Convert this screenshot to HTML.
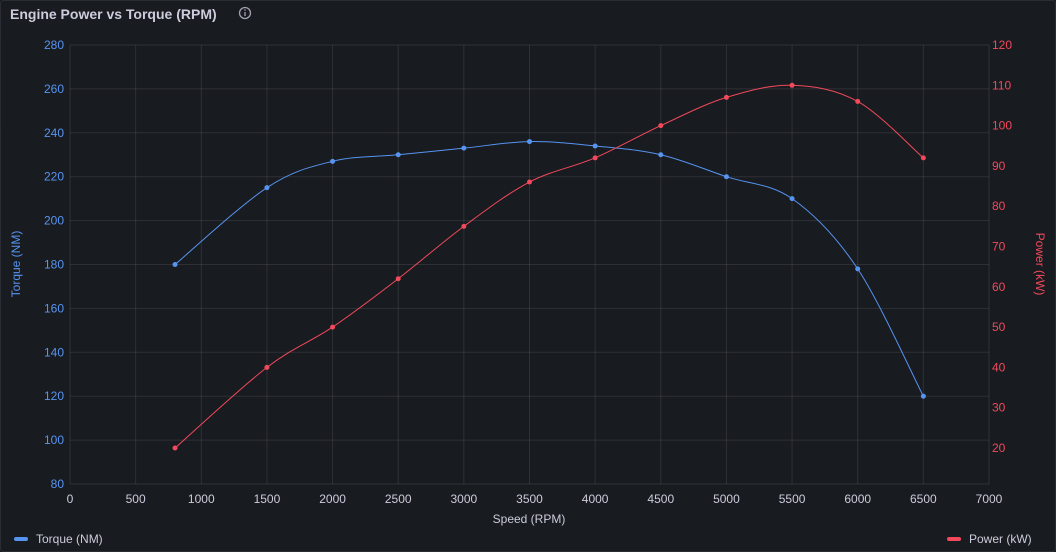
<!DOCTYPE html>
<html><head><meta charset="utf-8"><style>
html,body{margin:0;padding:0;background:#181b1f;width:1056px;height:552px;overflow:hidden;font-family:"Liberation Sans",sans-serif;}
</style></head><body>
<svg id="s" width="1056" height="552" xmlns="http://www.w3.org/2000/svg" style="position:absolute;left:0;top:0">
<rect x="0.5" y="0.5" width="1055" height="551" rx="3" fill="#181b1f" stroke="#2a2d33"/>
<text x="10" y="19" fill="#ccccdc" font-size="14" font-weight="bold">Engine Power vs Torque (RPM)</text>
<circle cx="245" cy="13" r="5.5" fill="none" stroke="#a0a0b0" stroke-width="1.3"/>
<line x1="245" y1="12" x2="245" y2="16" stroke="#a0a0b0" stroke-width="1.3"/>
<circle cx="245" cy="10" r="0.8" fill="#a0a0b0"/>
<g id="g"></g>
<text transform="translate(20,264) rotate(-90)" text-anchor="middle" fill="#5794f2" font-size="12">Torque (NM)</text>
<text transform="translate(1036,264) rotate(90)" text-anchor="middle" fill="#f2495c" font-size="12">Power (kW)</text>
<text x="529" y="523" text-anchor="middle" fill="#ccccdc" font-size="12">Speed (RPM)</text>
<rect x="14" y="537" width="14" height="4" rx="2" fill="#5794f2"/>
<text x="36" y="543" fill="#ccccdc" font-size="12">Torque (NM)</text>
<rect x="947" y="537" width="14" height="4" rx="2" fill="#f2495c"/>
<text x="969" y="543" fill="#ccccdc" font-size="12">Power (kW)</text>
</svg>
<script>
var g=document.getElementById('g'),h='';
function X(r){return 70+r*919/7000}
function YL(v){return 45+(280-v)*2.195}
function YR(v){return 45+(120-v)*4.03}
for(var r=0;r<=7000;r+=500){var x=X(r);h+='<line x1="'+x+'" y1="45" x2="'+x+'" y2="484" stroke="rgba(204,204,220,0.12)"/>';h+='<text x="'+x+'" y="503" text-anchor="middle" fill="#ccccdc" font-size="12">'+r+'</text>';}
for(var v=80;v<=280;v+=20){var y=YL(v);h+='<line x1="70" y1="'+y+'" x2="989" y2="'+y+'" stroke="rgba(204,204,220,0.12)"/>';h+='<text x="64" y="'+(y+4)+'" text-anchor="end" fill="#5794f2" font-size="12">'+v+'</text>';}
for(var v=20;v<=120;v+=10){var y=YR(v);h+='<text x="992" y="'+(y+4)+'" fill="#f2495c" font-size="12">'+v+'</text>';}
var rp=[800,1500,2000,2500,3000,3500,4000,4500,5000,5500,6000,6500];
var tq=[180,215,227,230,233,236,234,230,220,210,178,120];
var pw=[20,40,50,62,75,86,92,100,107,110,106,92];
function path(ys,f,c){var p=rp.map(function(r,i){return[X(r),f(ys[i])]});var d='M'+p[0];
for(var i=0;i<p.length-1;i++){var a=p[i-1]||p[i],b=p[i],c2=p[i+1],e=p[i+2]||c2;
d+=' C'+(b[0]+(c2[0]-a[0])/6)+','+(b[1]+(c2[1]-a[1])/6)+' '+(c2[0]-(e[0]-b[0])/6)+','+(c2[1]-(e[1]-b[1])/6)+' '+c2;}
h+='<path d="'+d+'" fill="none" stroke="'+c+'" stroke-width="1"/>';
p.forEach(function(q){h+='<circle cx="'+q[0]+'" cy="'+q[1]+'" r="2.5" fill="'+c+'"/>'});}
path(tq,YL,'#5794f2');path(pw,YR,'#f2495c');
g.innerHTML=h;
</script>
</body></html>
